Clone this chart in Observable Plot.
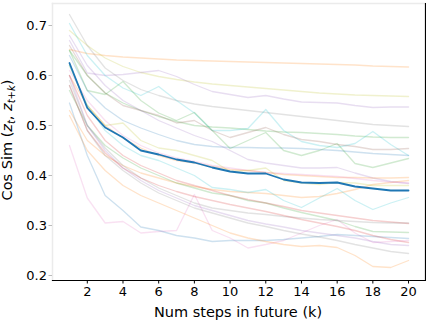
<!DOCTYPE html>
<html><head><meta charset="utf-8">
<script src="https://cdn.jsdelivr.net/npm/d3@7"></script>
<script src="https://cdn.jsdelivr.net/npm/@observablehq/plot@0.6"></script>
<style>body{margin:0;background:#fff;font-family:"DejaVu Sans",sans-serif}</style>
</head><body><div id="chart"></div>
<script>
// Future step k
const steps = [1,2,3,4,5,6,7,8,9,10,11,12,13,14,15,16,17,18,19,20];
const xTicks = [2,4,6,8,10,12,14,16,18,20];
const yTicks = [0.2,0.3,0.4,0.5,0.6,0.7];

// Mean cosine similarity
const meanSim = [0.625,0.535,0.496,0.476,0.45,0.442,0.432,0.426,0.416,0.408,0.404,0.404,0.392,0.386,0.385,0.386,0.378,0.374,0.37,0.37];

// Individual runs
const runA = [0.652,0.644,0.640,0.637,0.635,0.633,0.631,0.630,0.629,0.628,0.627,0.626,0.625,0.624,0.623,0.622,0.621,0.619,0.618,0.617];
const runB = [0.69,0.66,0.635,0.618,0.606,0.598,0.592,0.587,0.583,0.58,0.577,0.574,0.571,0.568,0.565,0.563,0.561,0.56,0.559,0.558];
const runC = [0.67,0.605,0.60,0.602,0.606,0.61,0.598,0.582,0.568,0.562,0.556,0.56,0.553,0.547,0.546,0.545,0.54,0.536,0.537,0.537];
const runD = [0.722,0.66,0.615,0.59,0.572,0.56,0.55,0.543,0.538,0.534,0.53,0.526,0.522,0.518,0.514,0.51,0.506,0.502,0.5,0.498];
const runE = [0.65,0.6,0.565,0.545,0.53,0.518,0.508,0.5,0.497,0.495,0.492,0.489,0.487,0.486,0.484,0.482,0.479,0.477,0.476,0.476];
const runF = [0.704,0.64,0.60,0.575,0.56,0.578,0.55,0.525,0.49,0.49,0.494,0.532,0.49,0.468,0.46,0.456,0.464,0.488,0.462,0.44];
const runG = [0.66,0.6,0.565,0.54,0.53,0.52,0.505,0.51,0.49,0.476,0.486,0.496,0.482,0.472,0.468,0.462,0.458,0.452,0.452,0.454];
const runH = [0.64,0.57,0.535,0.51,0.495,0.482,0.47,0.462,0.458,0.456,0.456,0.455,0.455,0.454,0.452,0.45,0.447,0.444,0.442,0.44];
const runI = [0.65,0.57,0.562,0.588,0.55,0.525,0.51,0.526,0.49,0.454,0.47,0.486,0.45,0.44,0.45,0.464,0.424,0.416,0.425,0.434];
const runJ = [0.68,0.62,0.58,0.55,0.53,0.51,0.495,0.48,0.468,0.45,0.432,0.425,0.42,0.415,0.415,0.416,0.405,0.395,0.388,0.384];
const runK = [0.53,0.47,0.44,0.42,0.405,0.395,0.385,0.378,0.372,0.368,0.366,0.364,0.36,0.356,0.358,0.364,0.372,0.382,0.386,0.39];
const runL = [0.60,0.54,0.50,0.475,0.455,0.44,0.43,0.425,0.418,0.412,0.41,0.406,0.402,0.4,0.398,0.396,0.396,0.395,0.395,0.396];
const runM = [0.61,0.55,0.51,0.48,0.46,0.445,0.435,0.428,0.42,0.415,0.41,0.406,0.404,0.402,0.4,0.398,0.394,0.39,0.387,0.385];
const runN = [0.62,0.54,0.5,0.505,0.47,0.455,0.45,0.44,0.43,0.408,0.41,0.415,0.39,0.385,0.382,0.386,0.385,0.38,0.38,0.38];
const runO = [0.62,0.54,0.49,0.46,0.44,0.43,0.415,0.40,0.376,0.372,0.366,0.372,0.35,0.336,0.355,0.374,0.35,0.332,0.345,0.356];
const runP = [0.57,0.5,0.46,0.435,0.415,0.4,0.385,0.375,0.365,0.36,0.35,0.345,0.335,0.326,0.318,0.31,0.298,0.288,0.287,0.286];
const runQ = [0.60,0.52,0.47,0.44,0.42,0.405,0.39,0.38,0.37,0.36,0.352,0.345,0.338,0.33,0.325,0.32,0.315,0.31,0.307,0.304];
const runR = [0.59,0.5,0.455,0.42,0.395,0.375,0.36,0.345,0.335,0.33,0.325,0.322,0.318,0.315,0.312,0.31,0.308,0.306,0.305,0.305];
const runS = [0.46,0.355,0.305,0.308,0.285,0.288,0.29,0.362,0.29,0.275,0.255,0.262,0.27,0.285,0.3,0.312,0.285,0.266,0.268,0.27];
const runT = [0.545,0.44,0.36,0.33,0.297,0.29,0.28,0.275,0.268,0.27,0.27,0.27,0.272,0.275,0.278,0.282,0.28,0.278,0.276,0.274];
const runU = [0.52,0.45,0.41,0.38,0.36,0.345,0.33,0.315,0.3,0.285,0.275,0.268,0.262,0.258,0.26,0.256,0.24,0.218,0.216,0.23];
const runV = [0.58,0.49,0.445,0.415,0.395,0.38,0.368,0.358,0.35,0.342,0.335,0.328,0.32,0.312,0.305,0.298,0.29,0.28,0.272,0.266];
const runW = [0.60,0.5,0.45,0.415,0.39,0.37,0.355,0.34,0.33,0.32,0.31,0.303,0.297,0.29,0.285,0.28,0.275,0.268,0.262,0.26];
const runX = [0.58,0.49,0.44,0.41,0.385,0.365,0.35,0.335,0.325,0.315,0.305,0.298,0.29,0.283,0.277,0.27,0.262,0.255,0.248,0.244];

const runs = [runA,runB,runC,runD,runE,runF,runG,runH,runI,runJ,runK,runL,runM,runN,runO,runP,runQ,runR,runS,runT,runU,runV,runW,runX];
const runColors = ["#ff7f0e","#bcbd22","#9467bd","#7f7f7f","#2ca02c","#17becf","#8c564b","#1f77b4","#2ca02c","#9467bd","#ff7f0e","#ff7f0e","#e377c2","#bcbd22","#17becf","#2ca02c","#d62728","#7f7f7f","#e377c2","#1f77b4","#ff7f0e","#d62728","#9467bd","#7f7f7f"];

const rows = [];
runs.forEach((r, i) => r.forEach((v, j) => rows.push({k: steps[j], v, run: i})));
const meanRows = meanSim.map((v, j) => ({k: steps[j], v}));

const W = 426, H = 320, mL = 52, mR = 1, mT = 3, mB = 40;
const chart = Plot.plot({
  width: W, height: H,
  marginLeft: mL, marginRight: mR, marginTop: mT, marginBottom: mB,
  style: {fontFamily: "DejaVu Sans", fontSize: "13px", color: "#000", background: "#fff"},
  x: {domain: [0.05, 20.95], label: null},
  y: {domain: [0.19, 0.744], label: null},
  marks: [
    Plot.line(rows, {x: "k", y: "v", z: "run", stroke: d => runColors[d.run], strokeOpacity: 0.22, strokeWidth: 1.3}),
    Plot.line(meanRows, {x: "k", y: "v", stroke: "#1f77b4", strokeWidth: 1.8}),
    Plot.frame({anchor: "top", stroke: "#ebebeb", strokeWidth: 1.5}),
    Plot.frame({anchor: "left", stroke: "#ebebeb", strokeWidth: 1.5}),
    Plot.frame({anchor: "bottom", stroke: "#000", strokeWidth: 1.2}),
    Plot.frame({anchor: "right", stroke: "#000", strokeWidth: 1.2}),
    Plot.axisX({ticks: xTicks, tickSize: 3.5, tickPadding: 3, fontSize: 13, label: null}),
    Plot.axisY({ticks: yTicks, tickSize: 3.5, tickPadding: 2, fontSize: 13, label: null, stroke: "#bbb", tickFormat: d3.format(".1f")})
  ]
});
const svg = d3.select(chart);
svg.selectAll("g[aria-label='y-axis tick label']").attr("fill", "#000");
// axis titles
svg.append("text").attr("x", 238).attr("y", 317).attr("text-anchor", "middle")
  .attr("font-family", "DejaVu Sans").attr("font-size", 14.5).attr("fill", "#000")
  .text("Num steps in future (k)");
const yl = svg.append("text").attr("transform", "translate(12,140) rotate(-90)").attr("text-anchor", "middle")
  .attr("font-family", "DejaVu Sans").attr("font-size", 14.5).attr("fill", "#000");
yl.append("tspan").text("Cos Sim (");
yl.append("tspan").attr("font-style", "italic").text("z");
yl.append("tspan").attr("font-size", 10).attr("font-style", "italic").attr("dy", 3).text("t");
yl.append("tspan").attr("dy", -3).text(", ");
yl.append("tspan").attr("font-style", "italic").text("z");
yl.append("tspan").attr("font-size", 10).attr("font-style", "italic").attr("dy", 3).text("t+k");
yl.append("tspan").attr("dy", -3).text(")");
document.getElementById("chart").appendChild(chart);
</script>
</body></html>
